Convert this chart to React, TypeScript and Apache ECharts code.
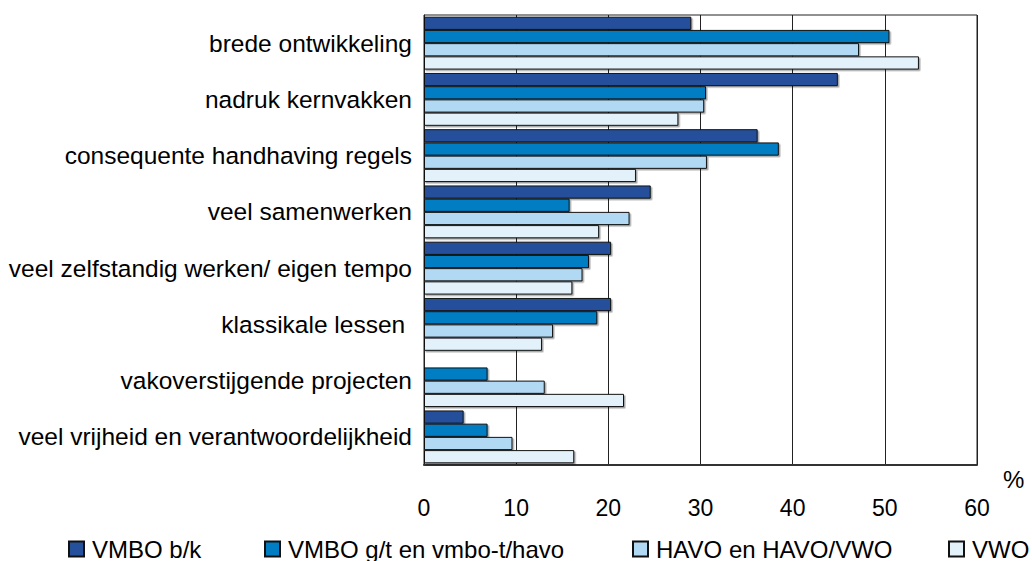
import React, { useEffect, useRef } from "react";
import * as echarts from "echarts";

const categories = [
  "brede ontwikkeling",
  "nadruk kernvakken",
  "consequente handhaving regels",
  "veel samenwerken",
  "veel zelfstandig werken/ eigen tempo",
  "klassikale lessen ",
  "vakoverstijgende projecten",
  "veel vrijheid en verantwoordelijkheid",
];
const seriesNames = ["VMBO b/k", "VMBO g/t en vmbo-t/havo", "HAVO en HAVO/VWO", "VWO"];
const vmboBK = [29.0, 44.9, 36.2, 24.6, 20.3, 20.3, null, 4.3];
const vmboGT = [50.5, 30.6, 38.5, 15.8, 17.9, 18.8, 6.9, 6.9];
const havo = [47.2, 30.4, 30.7, 22.3, 17.2, 14.0, 13.1, 9.6];
const vwo = [53.7, 27.6, 23.0, 19.0, 16.1, 12.8, 21.7, 16.3];
const xMin = 0;
const xMax = 60;
const xStep = 10;
const unitLabel = "%";

const colors = ["#25509B", "#007DC3", "#B2D9F3", "#E3F1FB"];
const FONT = "'Liberation Sans', Arial, sans-serif";

export default function App() {
  const ref = useRef<HTMLDivElement>(null);
  useEffect(() => {
    document.body.style.margin = "0";
    if (!ref.current) return;
    const chart = echarts.init(ref.current, undefined, { renderer: "svg" });
    const values = [vmboBK, vmboGT, havo, vwo];
    const legendLefts = [68, 264, 632, 948];
    chart.setOption({
      animation: false,
      backgroundColor: "#fff",
      textStyle: { fontFamily: FONT },
      grid: {
        left: 424,
        right: 55,
        top: 15,
        bottom: 96,
        show: true,
        borderColor: "#222",
        borderWidth: 1,
      },
      xAxis: {
        type: "value",
        min: xMin,
        max: xMax,
        interval: xStep,
        axisLine: { show: true, lineStyle: { color: "#333", width: 2 } },
        axisTick: { show: false },
        splitLine: { show: true, lineStyle: { color: "#222", width: 1 } },
        axisLabel: { color: "#000", fontSize: 23, fontFamily: FONT, margin: 31 },
      },
      yAxis: {
        type: "category",
        data: categories,
        inverse: true,
        axisLine: { show: true, lineStyle: { color: "#222", width: 1 } },
        axisTick: { show: false },
        axisLabel: { color: "#000", fontSize: 24.5, fontFamily: FONT, margin: 12 },
      },
      legend: seriesNames.map((n, i) => ({
        data: [n],
        left: legendLefts[i],
        top: 537,
        padding: 0,
        itemWidth: 15,
        itemHeight: 15,
        icon: "rect",
        textStyle: { color: "#000", fontSize: 24, fontFamily: FONT, padding: [0, 0, 0, 3] },
      })),
      graphic: [
        {
          type: "text",
          left: 1003,
          top: 467,
          style: { text: unitLabel, fontSize: 24, fontFamily: FONT, fill: "#000" },
        },
      ],
      series: seriesNames.map((n, i) => ({
        name: n,
        type: "bar",
        data: values[i],
        barGap: "0%",
        barCategoryGap: "6%",
        itemStyle: {
          color: colors[i],
          borderColor: "#111",
          borderWidth: 1,
          shadowColor: "rgba(0,0,0,0.35)",
          shadowOffsetX: 1.5,
          shadowOffsetY: 1.5,
          shadowBlur: 0,
        },
      })),
    });
    return () => chart.dispose();
  }, []);
  return <div ref={ref} style={{ width: 1032, height: 561 }} />;
}
